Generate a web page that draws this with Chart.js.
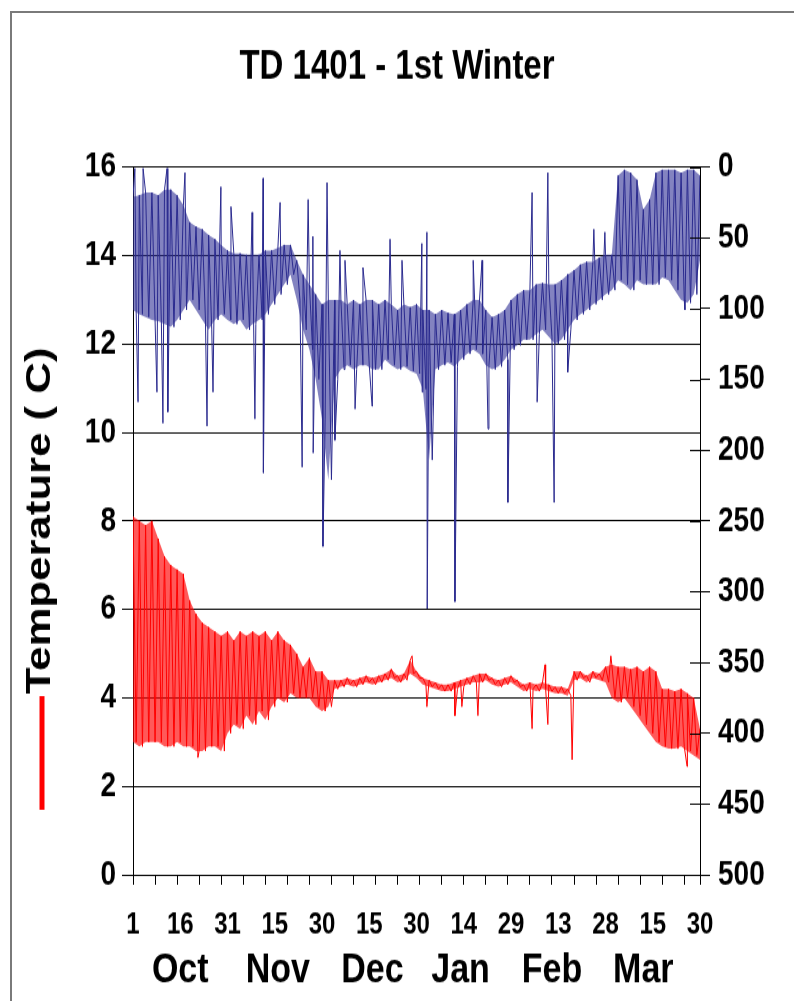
<!DOCTYPE html>
<html>
<head>
  <title>TD 1401 - 1st Winter</title>
  <script src="https://cdn.jsdelivr.net/npm/chart.js"></script>
  <style>
    body {
      margin: 0;
      background: #fff;
      overflow: hidden;
    }
    #frame {
      position: absolute;
      left: 10px;
      top: 11px;
      width: 790px;
      height: 995px;
      border-left: 2px solid #7a7a7a;
      border-top: 2px solid #7a7a7a;
    }
    #wrap {
      position: absolute;
      left: 0;
      top: 0;
      width: 794px;
      height: 1001px;
    }
    /* the original picture is stretched tall, so the canvas is too */
    #chart {
      width: 794px;
      height: 1001px;
    }
  </style>
</head>
<body>
  <div id="frame"></div>
  <div id="wrap"><canvas id="chart" width="794" height="801" style="width:794px;height:1001px"></canvas></div>

  <script>
    // days counted from 1 Oct; envelopes read every 2 days (day 0, 2, ... 180)
    const depthShallow = [
      21, 20, 18, 18, 20, 16, 16, 20, 27, 39,
      42, 44, 48, 51, 55, 59, 61, 61, 62, 62,
      62, 59, 59, 57, 55, 55, 66, 76, 83, 90,
      97, 94, 94, 94, 97, 94, 97, 94, 94, 97,
      94, 97, 101, 97, 99, 97, 101, 101, 104, 101,
      103, 104, 101, 97, 94, 94, 101, 106, 104, 101,
      94, 90, 87, 87, 83, 82, 83, 83, 80, 76,
      73, 69, 67, 67, 64, 62, 62, 6, 2, 4,
      9, 30, 23, 4, 2, 2, 2, 4, 2, 2, 6
    ];
    const depthDeep = [
      101, 104, 106, 108, 109, 111, 113, 108, 101, 94,
      101, 108, 115, 108, 104, 108, 111, 108, 115, 111,
      108, 104, 97, 90, 83, 76, 94, 115, 129, 150,
      178, 221, 150, 143, 140, 143, 140, 140, 143, 143,
      136, 140, 143, 141, 144, 146, 157, 207, 143, 140,
      138, 141, 136, 132, 129, 132, 140, 143, 141, 136,
      129, 126, 122, 122, 118, 115, 120, 125, 122, 115,
      108, 104, 101, 97, 94, 90, 87, 80, 83, 87,
      80, 83, 83, 83, 78, 80, 87, 94, 96, 90, 66
    ];
    // [day, depth] single readings that stick out of the band
    const depthSpikes = [
      [0.6, 1], [1.6, 166], [3.2, 1], [7.6, 159], [9.5, 181], [10.8, 1], [11.1, 173],
      [16.5, 4], [23.5, 183], [25.4, 159], [27.9, 14], [31.1, 28], [37.8, 32], [38.7, 178],
      [41.3, 8], [41.4, 216], [46.7, 25], [53.7, 212], [55.6, 23], [57.1, 49], [57.2, 202],
      [60.3, 268], [61.6, 11], [64.1, 193], [65.7, 59], [67.3, 66], [70.5, 171], [73, 71],
      [75.9, 169], [81.6, 51], [85.4, 66], [91.7, 54], [91.8, 159], [93.3, 46], [93.4, 312],
      [102.2, 307], [108, 66], [110.8, 66], [112.7, 185], [119, 237], [126.7, 18],
      [128.3, 166], [131.7, 4], [133.7, 237], [138, 145], [146.3, 44], [149.8, 46], [175.2, 101]
    ];

    const tempHigh = [
      8.1, 8.0, 7.9, 8.0, 7.6, 7.2, 7.0, 6.9, 6.8, 6.2,
      5.9, 5.7, 5.6, 5.5, 5.4, 5.5, 5.3, 5.5, 5.4, 5.5,
      5.4, 5.5, 5.3, 5.5, 5.3, 5.2, 5.0, 4.7, 4.9, 4.6,
      4.6, 4.4, 4.4, 4.4, 4.45, 4.4, 4.45, 4.5, 4.45, 4.5,
      4.55, 4.65, 4.5, 4.55, 4.85, 4.6, 4.45, 4.4, 4.35, 4.3,
      4.3, 4.35, 4.4, 4.45, 4.5, 4.55, 4.55, 4.45, 4.4, 4.45,
      4.5, 4.4, 4.3, 4.35, 4.3, 4.35, 4.3, 4.25, 4.25, 4.2,
      4.6, 4.6, 4.5, 4.6, 4.55, 4.7, 4.75, 4.7, 4.7, 4.65,
      4.7, 4.6, 4.7, 4.6, 4.2, 4.2, 4.15, 4.2, 4.1, 4.0, 3.3
    ];
    const tempLow = [
      3.0, 2.9, 3.0, 3.0, 3.0, 2.9, 2.9, 3.0, 2.9, 2.9,
      2.8, 2.8, 2.9, 2.9, 2.8, 3.2, 3.4, 3.3, 3.6, 3.4,
      3.7, 3.5, 3.8, 4.0, 3.9, 4.1, 4.0, 4.0, 4.0, 3.8,
      3.7, 3.8, 4.2, 4.25, 4.3, 4.25, 4.3, 4.35, 4.3, 4.35,
      4.4, 4.45, 4.35, 4.4, 4.55, 4.45, 4.3, 4.25, 4.2, 4.15,
      4.15, 4.2, 4.25, 4.3, 4.35, 4.35, 4.4, 4.3, 4.25, 4.3,
      4.35, 4.25, 4.15, 4.2, 4.15, 4.2, 4.15, 4.1, 4.1, 4.05,
      4.4, 4.45, 4.35, 4.45, 4.4, 4.35, 4.0, 3.9, 4.0, 3.8,
      3.6, 3.4, 3.2, 3.0, 2.9, 2.85, 2.85, 2.9, 2.8, 2.7, 2.6
    ];
    const tempSpikes = [
      [20.6, 2.65], [88.6, 4.95], [93.3, 3.8], [102.2, 3.6], [104.4, 3.8], [109.5, 3.6],
      [126.7, 3.3], [130.8, 4.75], [131.7, 3.4], [139.4, 2.6], [151.7, 4.95], [175.9, 2.45]
    ];

    const weekTicks = [0, 7, 14, 21, 28, 35, 42, 49, 56, 63, 70, 77, 84, 91, 98, 105, 112,
                       119, 126, 133, 140, 147, 154, 161, 168, 175, 180];
    const dayTickPos = [0, 15, 30, 45, 60, 75, 90, 105, 120, 135, 150, 165, 180];
    const dayLabels = ['1', '16', '31', '15', '30', '15', '30', '14', '29', '13', '28', '15', '30'];
    const monthPos = [15, 46, 76, 104, 133, 162];
    const monthNames = ['Oct', 'Nov', 'Dec', 'Jan', 'Feb', 'Mar'];

    // band drawn as hi/lo zig-zag, spikes slotted in by day
    function buildSeries(hi, lo, spikes) {
      const pts = [];
      hi.forEach((v, i) => {
        pts.push({ x: i * 2, y: v });
        pts.push({ x: i * 2 + 1, y: lo[i] });
      });
      spikes.forEach(s => pts.push({ x: s[0], y: s[1] }));
      pts.sort((a, b) => a.x - b.x);
      return pts;
    }
    const toPoints = arr => arr.map((v, i) => ({ x: i * 2, y: v }));

    const FONT = "'Liberation Sans', Arial, sans-serif";

    const extras = {
      id: 'extras',
      afterDraw(chart) {
        const { ctx, chartArea, scales } = chart;
        const r = scales.y2;
        ctx.save();
        ctx.strokeStyle = '#000';
        ctx.lineWidth = 1;
        r.ticks.forEach(t => {
          const y = Math.round(r.getPixelForValue(t.value)) + 0.5;
          ctx.beginPath();
          ctx.moveTo(chartArea.right - 10, y);
          ctx.lineTo(chartArea.right, y);
          ctx.stroke();
        });
        // red key under the temperature title
        ctx.strokeStyle = '#ff0000';
        ctx.lineWidth = 5;
        ctx.beginPath();
        ctx.moveTo(42, chartArea.bottom - 143);
        ctx.lineTo(42, chartArea.bottom - 52);
        ctx.stroke();
        ctx.restore();
      }
    };

    const lineStyle = { pointRadius: 0, borderWidth: 1, xAxisID: 'x' };

    new Chart(document.getElementById('chart'), {
      type: 'line',
      data: {
        datasets: [
          {
            ...lineStyle,
            label: 'Depth',
            data: buildSeries(depthShallow, depthDeep, depthSpikes),
            borderColor: '#2b2b8f',
            yAxisID: 'y2'
          },
          {
            ...lineStyle,
            label: 'Depth band top',
            data: toPoints(depthShallow),
            borderWidth: 0,
            borderColor: 'rgba(0,0,0,0)',
            backgroundColor: 'rgba(48,48,150,0.6)',
            fill: '+1',
            yAxisID: 'y2'
          },
          {
            ...lineStyle,
            label: 'Depth band bottom',
            data: toPoints(depthDeep),
            borderWidth: 0,
            borderColor: 'rgba(0,0,0,0)',
            yAxisID: 'y2'
          },
          {
            ...lineStyle,
            label: 'Temperature',
            data: buildSeries(tempHigh, tempLow, tempSpikes),
            borderColor: '#ff0000',
            yAxisID: 'y'
          },
          {
            ...lineStyle,
            label: 'Temperature band top',
            data: toPoints(tempHigh),
            borderWidth: 0,
            borderColor: 'rgba(0,0,0,0)',
            backgroundColor: 'rgba(255,0,0,0.65)',
            fill: '+1',
            yAxisID: 'y'
          },
          {
            ...lineStyle,
            label: 'Temperature band bottom',
            data: toPoints(tempLow),
            borderWidth: 0,
            borderColor: 'rgba(0,0,0,0)',
            yAxisID: 'y'
          }
        ]
      },
      options: {
        responsive: false,
        animation: false,
        layout: { padding: 0 },
        plugins: {
          legend: { display: false },
          tooltip: { enabled: false },
          title: {
            display: true,
            text: 'TD 1401 - 1st Winter',
            color: '#000',
            font: { family: FONT, size: 33, weight: 'bold' },
            padding: { top: 34, bottom: 60 }
          }
        },
        scales: {
          x: {
            type: 'linear',
            position: 'bottom',
            min: 0,
            max: 180,
            weight: 0,
            afterBuildTicks: s => { s.ticks = weekTicks.map(v => ({ value: v })); },
            ticks: { display: false },
            grid: { drawOnChartArea: false, tickLength: 8, color: '#000' },
            border: { color: '#000' },
            afterFit: s => { s.height = 8; }
          },
          xDays: {
            type: 'linear',
            position: 'bottom',
            min: 0,
            max: 180,
            weight: 1,
            afterBuildTicks: s => { s.ticks = dayTickPos.map(v => ({ value: v })); },
            ticks: {
              autoSkip: false,
              maxRotation: 0,
              padding: 18,
              color: '#000',
              font: { family: FONT, size: 24, weight: 'bold' },
              callback: (v, i) => dayLabels[i]
            },
            grid: { display: false, drawTicks: false },
            border: { display: false },
            afterFit: s => { s.height = 48; }
          },
          xMonths: {
            type: 'linear',
            position: 'bottom',
            min: 0,
            max: 180,
            weight: 2,
            afterBuildTicks: s => { s.ticks = monthPos.map(v => ({ value: v })); },
            ticks: {
              autoSkip: false,
              maxRotation: 0,
              padding: 0,
              color: '#000',
              font: { family: FONT, size: 34, weight: 'bold' },
              callback: (v, i) => monthNames[i]
            },
            grid: { display: false, drawTicks: false },
            border: { display: false },
            afterFit: s => { s.height = 45; }
          },
          y: {
            position: 'left',
            min: 0,
            max: 16,
            ticks: {
              stepSize: 2,
              padding: 6,
              color: '#000',
              font: { family: FONT, size: 28, weight: 'bold' }
            },
            grid: { color: '#000', tickLength: 11 },
            border: { color: '#000' },
            title: {
              display: true,
              text: 'Temperature ( C)',
              color: '#000',
              font: { family: FONT, size: 35, weight: 'bold' },
              padding: { top: 19, bottom: 0 }
            },
            afterFit: s => { s.width = 133; }
          },
          y2: {
            position: 'right',
            min: 0,
            max: 500,
            reverse: true,
            ticks: {
              stepSize: 50,
              padding: 8,
              color: '#000',
              font: { family: FONT, size: 28, weight: 'bold' }
            },
            grid: { drawOnChartArea: false, tickLength: 10, color: '#000' },
            border: { color: '#000' },
            afterFit: s => { s.width = 94; }
          }
        }
      },
      plugins: [extras]
    });
  </script>
</body>
</html>
